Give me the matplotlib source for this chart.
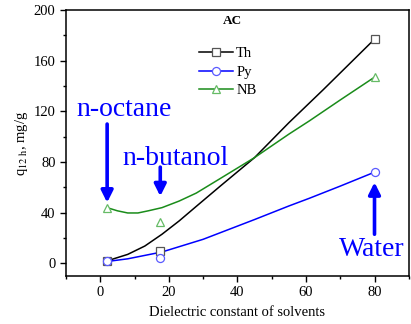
import matplotlib
matplotlib.use('Agg')
import matplotlib.pyplot as plt
from matplotlib.ticker import MultipleLocator
from matplotlib.lines import Line2D

plt.rcParams['font.family'] = 'Liberation Serif'
plt.rcParams['mathtext.fontset'] = 'stix'

# measured uptake (mg/g) vs solvent dielectric constant
eps = [2, 17.5, 80]
th_pts = [2, 10, 177]
py_pts = [1.5, 4, 72]
nb_pts = [44, 33, 147]

# fitted trend curves
th_fit_x = [2, 8, 13, 18, 23, 28, 35, 45, 55, 65, 80]
th_fit_y = [2.0, 7.1, 13.7, 23.0, 33.5, 45.0, 61.0, 83.5, 111.0, 137.0, 177.0]
nb_fit_x = [2, 5, 8, 11, 14, 18, 23, 28, 35, 45, 55, 61, 70, 80]
nb_fit_y = [44.0, 41.5, 39.8, 39.8, 41.5, 44.0, 49.2, 55.5, 67.0, 83.5, 102.0, 112.5, 129.0, 147.0]
py_fit_x = [2, 8, 18, 30, 45, 55, 61, 70, 80]
py_fit_y = [1.5, 3.6, 9.0, 19.0, 34.6, 45.3, 51.4, 61.0, 72.0]

series = [
    ('Th', th_fit_x, th_fit_y, th_pts, 'black', '#555555', 's'),
    ('Py', py_fit_x, py_fit_y, py_pts, '#0000ff', '#5a5aff', 'o'),
    ('NB', nb_fit_x, nb_fit_y, nb_pts, '#1a8c1a', '#66bb66', '^'),
]

fig = plt.figure(figsize=(4.11, 3.24), dpi=100)
ax = fig.add_axes([0.1606, 0.148, 0.834, 0.821])

handles = []
for name, fx, fy, pts, lc, mc, mk in series:
    ax.plot(fx, fy, color=lc, linewidth=1.1, zorder=2)
    ax.plot(eps, pts, linestyle='none', marker=mk, markersize=5.8,
            markerfacecolor='white', markeredgecolor=mc, markeredgewidth=0.9, zorder=3)
    handles.append(Line2D([], [], color=lc, linewidth=1.1, marker=mk, markersize=5.8,
                          markerfacecolor='white', markeredgecolor=mc,
                          markeredgewidth=0.9, label=name))

ax.set_xlim(-10, 90)
ax.set_ylim(-10, 200)
ax.xaxis.set_major_locator(MultipleLocator(20))
ax.xaxis.set_minor_locator(MultipleLocator(10))
ax.yaxis.set_major_locator(MultipleLocator(40))
ax.yaxis.set_minor_locator(MultipleLocator(20))
ax.tick_params(which='major', direction='out', length=4, width=1, labelsize=10.5)
ax.tick_params(which='minor', direction='out', length=2.5, width=1)
for sp in ax.spines.values():
    sp.set_linewidth(1.1)

ax.set_xlabel('Dielectric constant of solvents', fontsize=10.5, labelpad=5)
ax.set_ylabel(r'q$_{\mathrm{12\ h}}$, mg/g', fontsize=10.5, labelpad=3)

ax.text(38.5, 191, 'AC', fontsize=9.5, fontweight='bold', ha='center', va='center')
ax.legend(handles=handles, loc='upper left', bbox_to_anchor=(0.388, 0.86),
          frameon=False, fontsize=10.5, handlelength=2.3, handletextpad=0.25,
          labelspacing=0.36, borderaxespad=0, borderpad=0)

# solvent annotations
blue = '#0000ff'
arrow = dict(arrowstyle='-|>,head_length=0.7,head_width=0.35', color=blue, lw=2.6,
             shrinkA=0, shrinkB=0)
ax.text(-7, 116, 'n-octane', color=blue, fontsize=20, ha='left', va='baseline')
ax.annotate('', xy=(2, 48), xytext=(2, 110), arrowprops=arrow)
ax.text(6.5, 78, 'n-butanol', color=blue, fontsize=20, ha='left', va='baseline')
ax.annotate('', xy=(17.5, 53), xytext=(17.5, 76), arrowprops=arrow)
ax.text(69.5, 6, 'Water', color=blue, fontsize=20, ha='left', va='baseline')
ax.annotate('', xy=(80, 64), xytext=(80, 23), arrowprops=arrow)

fig.savefig('out.png', dpi=100)
